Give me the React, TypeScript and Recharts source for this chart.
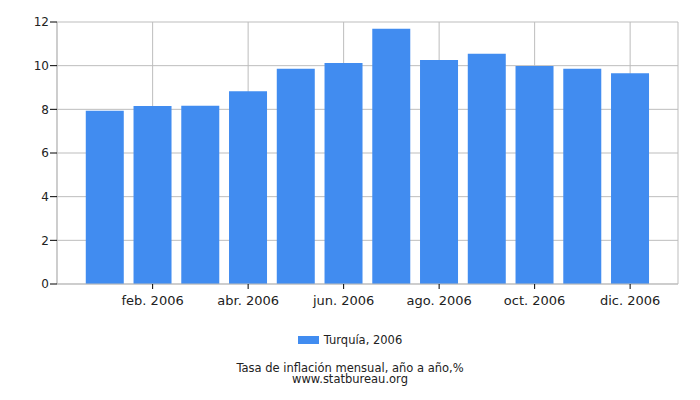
import React from "react";
import { BarChart, Bar, XAxis, YAxis, CartesianGrid } from "recharts";

const months = [
  "ene. 2006", "feb. 2006", "mar. 2006", "abr. 2006", "may. 2006", "jun. 2006",
  "jul. 2006", "ago. 2006", "sep. 2006", "oct. 2006", "nov. 2006", "dic. 2006",
];
const values = [7.93, 8.15, 8.16, 8.83, 9.86, 10.12, 11.69, 10.26, 10.55, 9.98, 9.86, 9.65];
const xTicks = ["feb. 2006", "abr. 2006", "jun. 2006", "ago. 2006", "oct. 2006", "dic. 2006"];
const yTicks = [0, 2, 4, 6, 8, 10, 12];
const seriesName = "Turquía, 2006";
const title = "Tasa de inflación mensual, año a año,%";
const source = "www.statbureau.org";

const data = months.map((m, i) => ({ month: m, value: values[i] }));

const FONT = "'DejaVu Sans', Verdana, sans-serif";
const BLUE = "#418cf0";
const GRID = "#bdbdbd";

const EmptyTick = () => <g />;

export default function App() {
  return (
    <div style={{ position: "absolute", left: 0, top: 0, width: 700, height: 400, background: "#fff", fontFamily: FONT }}>
      <BarChart
        width={700}
        height={400}
        data={data}
        margin={{ top: 22, right: 22, left: 0, bottom: 86 }}
        barCategoryGap="10%"
      >
        <CartesianGrid stroke={GRID} strokeWidth={1} xAxisId="main" />
        <XAxis
          xAxisId={0}
          type="number"
          domain={[0, 1]}
          ticks={[0]}
          height={0}
          tickSize={5}
          axisLine={false}
          tickLine={{ stroke: "#000" }}
          tick={EmptyTick}
        />
        <XAxis
          xAxisId="main"
          dataKey="month"
          ticks={xTicks}
          interval={0}
          padding={{ left: 24, right: 24 }}
          height={30}
          tickSize={5}
          tickMargin={7}
          axisLine={{ stroke: GRID }}
          tickLine={{ stroke: "#000" }}
          tick={{ fill: "#222", fontSize: 13, fontFamily: FONT }}
        />
        <XAxis
          xAxisId="top"
          dataKey="month"
          orientation="top"
          height={0}
          tick={false}
          tickLine={false}
          axisLine={{ stroke: GRID }}
        />
        <YAxis
          domain={[0, 12]}
          ticks={yTicks}
          width={57}
          tickSize={7}
          tickMargin={1}
          axisLine={{ stroke: GRID }}
          tickLine={{ stroke: "#000" }}
          tick={{ fill: "#222", fontSize: 12, fontFamily: FONT }}
        />
        <YAxis
          yAxisId="right"
          orientation="right"
          width={0}
          tick={false}
          tickLine={false}
          axisLine={{ stroke: GRID }}
        />
        <Bar dataKey="value" xAxisId="main" fill={BLUE} isAnimationActive={false} />
      </BarChart>
      <div style={{ position: "absolute", left: 0, top: 333, width: 700, display: "flex", justifyContent: "center", alignItems: "center", fontSize: 11.5, color: "#222" }}>
        <span style={{ display: "inline-block", width: 21, height: 8, background: BLUE, marginRight: 5 }} />
        <span>{seriesName}</span>
      </div>
      <div style={{ position: "absolute", left: 0, top: 363, width: 700, textAlign: "center", fontSize: 11.5, lineHeight: "11px", color: "#222" }}>
        <div>{title}</div>
        <div>{source}</div>
      </div>
    </div>
  );
}
